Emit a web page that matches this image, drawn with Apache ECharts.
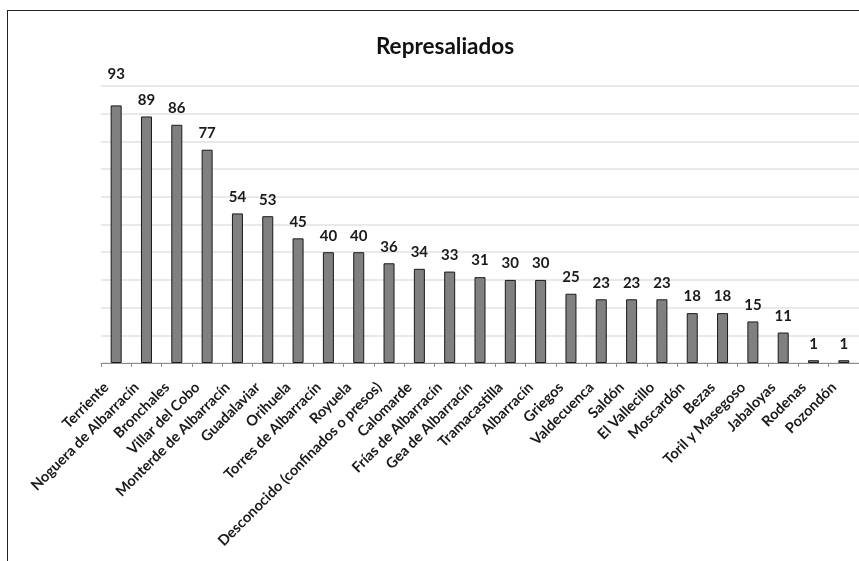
<!DOCTYPE html>
<html>
<head>
<meta charset="utf-8">
<script src="https://cdn.jsdelivr.net/npm/echarts@6/dist/echarts.min.js"></script>
<style>
  html, body { margin: 0; padding: 0; background: #fff; }
  #main { width: 859px; height: 561px; position: relative; }
  .frame {
    position: absolute; left: 7px; top: 10px; width: 900px; height: 600px;
    border-left: 1.5px solid #222; border-top: 1.5px solid #222;
    pointer-events: none; z-index: 5;
  }
</style>
</head>
<body>
<div id="main"></div>
<div class="frame"></div>
<script>
// pueblos y represaliados
const pueblos = [
  'Terriente', 'Noguera de Albarracín', 'Bronchales', 'Villar del Cobo',
  'Monterde de Albarracín', 'Guadalaviar', 'Orihuela', 'Torres de Albarracín',
  'Royuela', 'Desconocido (confinados o presos)', 'Calomarde', 'Frías de Albarracín',
  'Gea de Albarracín', 'Tramacastilla', 'Albarracín', 'Griegos', 'Valdecuenca',
  'Saldón', 'El Vallecillo', 'Moscardón', 'Bezas', 'Toril y Masegoso',
  'Jabaloyas', 'Rodenas', 'Pozondón'
];
const represaliados = [93, 89, 86, 77, 54, 53, 45, 40, 40, 36, 34, 33, 31, 30, 30, 25, 23, 23, 23, 18, 18, 15, 11, 1, 1];

const chart = echarts.init(document.getElementById('main'));

const font = 'Lato, "Open Sans", sans-serif';

const option = {
  animation: false,
  title: {
    text: 'Represaliados',
    left: 440,
    top: 30,
    textAlign: 'center',
    textStyle: { fontFamily: font, fontWeight: 'bold', fontSize: 22.5, color: '#111' }
  },
  grid: { left: 101, right: 0, top: 86, bottom: 198, outerBoundsMode: 'none' },
  xAxis: {
    type: 'category',
    data: pueblos,
    axisLine: { lineStyle: { color: '#8c8c8c', width: 1 } },
    axisTick: { show: true, length: 4, lineStyle: { color: '#8c8c8c' } },
    axisLabel: {
      interval: 0,
      rotate: 45,
      margin: 12,
      padding: [0, 14, 0, 0],
      fontFamily: font,
      fontWeight: 'bold',
      fontSize: 14.6,
      color: '#1a1a1a'
    }
  },
  yAxis: {
    type: 'value',
    min: 0,
    max: 100,
    interval: 10,
    axisLine: { show: false },
    axisTick: { show: false },
    axisLabel: { show: false },
    splitLine: { lineStyle: { color: '#e2e2e2', width: 1.5 } }
  },
  series: [{
    type: 'bar',
    barWidth: 11,
    itemStyle: { color: '#808080', borderColor: '#1a1a1a', borderWidth: 1 },
    label: {
      show: true,
      position: 'top',
      distance: 9,
      fontFamily: font,
      fontWeight: 'bold',
      fontSize: 15,
      color: '#1a1a1a'
    },
    data: represaliados.map((v, i) => i === 0
      ? { value: v, label: { offset: [0, -15] } }
      : v)
  }]
};

chart.setOption(option);
</script>
</body>
</html>
